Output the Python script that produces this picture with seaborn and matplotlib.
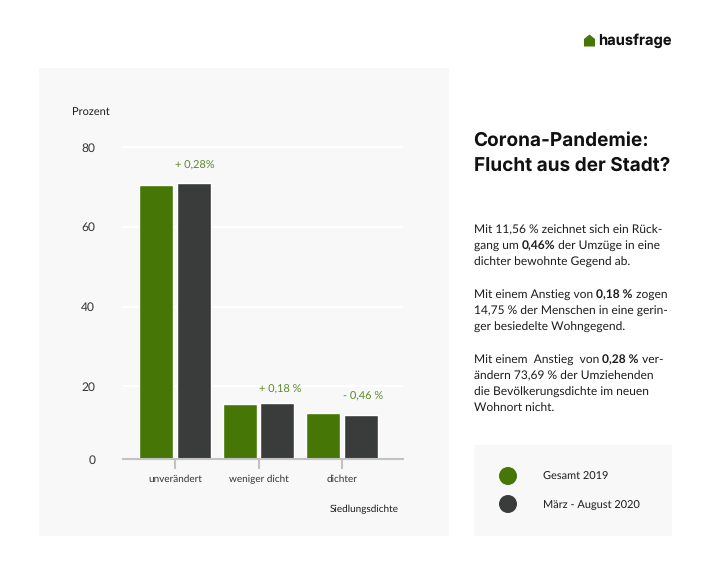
"""Bar chart of settlement density changes with text panel"""

import pandas as pd
import matplotlib.pyplot as plt
from matplotlib.patches import Rectangle, Circle, Polygon
import seaborn as sns

categories = ['unverändert', 'weniger dicht', 'dichter']
values_2019 = [70.2, 14.2, 11.8]
values_2020 = [70.8, 14.4, 11.3]
series_names = ['Gesamt 2019', 'März - August 2020']
changes = ['+ 0,28%', '+ 0,18 %', '- 0,46 %']
y_labels = ['0', '20', '40', '60', '80']
# the gridlines in the source are not evenly spaced, so these follow the picture
y_ticks = [0, 18.7, 39.0, 59.5, 80]

title = ['Corona-Pandemie:', 'Flucht aus der Stadt?']
body = [
    (230, [('Mit 11,56 % zeichnet sich ein Rück-', False)]),
    (246, [('gang um ', False), ('0,46%', True), (' der Umzüge in eine', False)]),
    (262, [('dichter bewohnte Gegend ab.', False)]),
    (295, [('Mit einem Anstieg von ', False), ('0,18 %', True), (' zogen', False)]),
    (311, [('14,75 % der Menschen in eine gerin-', False)]),
    (327, [('ger besiedelte Wohngegend.', False)]),
    (360, [('Mit einem  Anstieg  von ', False), ('0,28 %', True), (' ver-', False)]),
    (376, [('ändern 73,69 % der Umziehenden', False)]),
    (392, [('die Bevölkerungsdichte im neuen', False)]),
    (408, [('Wohnort nicht.', False)]),
]

GREEN = '#467605'
DARK = '#3a3b3b'
PANEL = '#f8f8f8'
TEXT = '#1c1c1c'
W, H = 710, 568

sns.set_style('white')
plt.rcParams['font.family'] = ['Lato', 'DejaVu Sans']
plt.rcParams['text.hinting'] = 'no_hinting'
plt.rcParams['text.hinting_factor'] = 1

df = pd.DataFrame({
    'Siedlungsdichte': categories * 2,
    'Prozent': values_2019 + values_2020,
    'Zeitraum': [series_names[0]] * 3 + [series_names[1]] * 3,
})

fig = plt.figure(figsize=(W / 100, H / 100), dpi=100, facecolor='white')

# Overlay in pixel coordinates for panels and text
bg = fig.add_axes([0, 0, 1, 1], zorder=0)
bg.set_xlim(0, W)
bg.set_ylim(H, 0)
bg.axis('off')
bg.add_patch(Rectangle((39, 68), 410, 468, color=PANEL, lw=0))
bg.add_patch(Rectangle((474, 445), 198, 91, color=PANEL, lw=0))

# Chart
x0, x1, y_base, y_top = 123, 403, 459, 127.5
ax = fig.add_axes([x0 / W, 1 - y_base / H, (x1 - x0) / W, (y_base - y_top) / H], zorder=1)
ax.patch.set_alpha(0)
sns.barplot(data=df, x='Siedlungsdichte', y='Prozent', hue='Zeitraum', ax=ax,
            palette=[GREEN, DARK], width=0.898, gap=0.09, legend=False, saturation=1)
ax.set_xlim(-0.623, 2.73)
ax.set_ylim(0, 85)
ax.set_axisbelow(True)
ax.set_yticks(y_ticks, y_labels)
ax.yaxis.grid(True, color='white', lw=1.6)
ax.xaxis.grid(False)
ax.set_xlabel('')
ax.set_ylabel('')
sns.despine(ax=ax, left=True)
ax.spines['bottom'].set_color('#c2c2c2')
ax.spines['bottom'].set_linewidth(1.5)
ax.tick_params(axis='y', length=0, pad=20, labelsize=8.8, labelcolor='#333333')
ax.tick_params(axis='x', length=7.5, width=1.5, color='#c2c2c2', pad=4, labelsize=7.3,
               labelcolor='#333333', bottom=True)

# Change labels above the bars
offsets = [(20, 17), (22, 13), (21, 17)]
for i, label in enumerate(changes):
    top = max(values_2019[i], values_2020[i])
    ax.annotate(label, xy=(i, top), xytext=offsets[i], textcoords='offset pixels',
                ha='center', va='center', fontsize=8.2, color='#5b8a2c')

bg.text(72, 112, 'Prozent', fontsize=8, color=TEXT, va='center')
bg.text(399, 509.5, 'Siedlungsdichte', fontsize=6.9, color=TEXT, va='center', ha='right')

# Logo
bg.add_patch(Polygon([(584, 46.5), (584, 39), (589.5, 34.5), (595, 39), (595, 46.5)], color=GREEN, lw=0))
bg.text(598, 41, 'hausfrage', fontsize=10.6, fontweight='bold', family='Inter', color='#111111', va='center')

# Title
bg.text(473.5, 140.5, title[0], fontsize=13.7, fontweight='bold', family='Inter', color='#111111', va='center')
bg.text(473.5, 166, title[1], fontsize=13.7, fontweight='bold', family='Inter', color='#111111', va='center')

# Body text, bold runs placed after the text before them
renderer = fig.canvas.get_renderer()
for y, runs in body:
    x = 474
    for text, bold in runs:
        t = bg.text(x, y, text, fontsize=8.5, color=TEXT, va='center',
                    fontweight='bold' if bold else 'normal')
        x += t.get_window_extent(renderer).width

# Legend
for y, color, name in zip([476, 504], [GREEN, DARK], series_names):
    bg.add_patch(Circle((508, y), 9, color=color, lw=0))
    bg.text(543, y + 1, name, fontsize=7.8, color=TEXT, va='center')

fig.savefig('out.png', dpi=100)
